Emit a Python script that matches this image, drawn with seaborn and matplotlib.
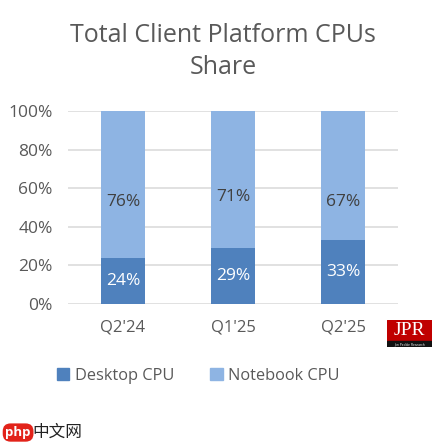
import matplotlib
matplotlib.use("Agg")
import matplotlib.pyplot as plt
import matplotlib.patches as mpatches
import numpy as np
import pandas as pd
import seaborn as sns

# data
quarters = ["Q2'24", "Q1'25", "Q2'25"]
desktop_share = [24, 29, 33]
notebook_share = [76, 71, 67]
series_names = ["Desktop CPU", "Notebook CPU"]

desktop_color = "#4F81BD"
notebook_color = "#8EB4E3"
text_gray = "#595959"

# where the notebook labels sit (fraction of axis height), as in the reference
notebook_label_y = [0.53, 0.555, 0.53]

df = pd.DataFrame({
    "quarter": quarters,
    "desktop": desktop_share,
    "notebook": notebook_share,
})
df["total"] = df["desktop"] + df["notebook"]

sns.set_style("white")
plt.rcParams["font.family"] = ["Open Sans", "Noto Sans CJK SC", "DejaVu Sans"]

fig = plt.figure(figsize=(4.46, 4.45), dpi=100)
ax = fig.add_axes([0.1525, 0.3169, 0.7399, 0.4337])

# stacked bars: full height first, then desktop over it
sns.barplot(data=df, x="quarter", y="total", color=notebook_color,
            width=0.4, linewidth=0, saturation=1, ax=ax, zorder=3)
sns.barplot(data=df, x="quarter", y="desktop", color=desktop_color,
            width=0.4, linewidth=0, saturation=1, ax=ax, zorder=3)

ax.set_xlim(-0.5, 2.5)
ax.set_ylim(0, 100)
ax.set_yticks(np.arange(0, 101, 20))
ax.set_yticklabels([f"{v}%" for v in range(0, 101, 20)])
ax.yaxis.grid(True, color="#D9D9D9", linewidth=1.1, zorder=0)
ax.set_axisbelow(True)
for s in ax.spines.values():
    s.set_visible(False)
ax.set_xlabel("")
ax.set_ylabel("")
ax.tick_params(axis="y", length=0, pad=11, labelsize=12.5, labelcolor=text_gray)
ax.tick_params(axis="x", length=0, pad=11, labelsize=12, labelcolor=text_gray)

# data labels
for i, row in df.iterrows():
    ax.text(i, row["desktop"] / 2, f"{row['desktop']}%", ha="center", va="center",
            color="white", fontsize=12.5, zorder=4)
    ax.text(i, notebook_label_y[i] * 100, f"{row['notebook']}%", ha="center",
            va="center", color="#404040", fontsize=12.5, zorder=4)

fig.text(0.5, 0.884, "Total Client Platform CPUs\nShare", ha="center", va="center",
         fontsize=18, color=text_gray, linespacing=1.4)

handles = [mpatches.Patch(color=desktop_color, label=series_names[0]),
           mpatches.Patch(color=notebook_color, label=series_names[1])]
fig.legend(handles=handles, loc="center", bbox_to_anchor=(0.445, 0.155), ncol=2,
           frameon=False, fontsize=11.8, handlelength=0.75, handleheight=0.75,
           handletextpad=0.35, columnspacing=2.2, labelcolor=text_gray)

# JPR logo box
logo = fig.add_axes([0.868, 0.22, 0.101, 0.061])
logo.set_xlim(0, 1)
logo.set_ylim(0, 1)
logo.axis("off")
logo.add_patch(mpatches.Rectangle((0, 0.22), 1, 0.78, color="#C00000"))
logo.add_patch(mpatches.Rectangle((0, 0), 1, 0.22, color="#111111"))
logo.text(0.5, 0.6, "JPR", ha="center", va="center", color="white",
          fontsize=14, family="Liberation Serif")
logo.text(0.5, 0.1, "Jon Peddie Research", ha="center", va="center",
          color="white", fontsize=2.3)

# watermark bottom left
fig.text(0.012, 0.028, "php", ha="left", va="center", color="white", fontsize=9.5,
         fontweight="bold",
         bbox=dict(boxstyle="round,pad=0.2,rounding_size=0.6", fc="#E2231A", ec="none"))
fig.text(0.073, 0.028, "中文网", ha="left", va="center", color="#222222", fontsize=12,
         family=["Noto Sans CJK SC", "DejaVu Sans"])

fig.savefig("out.png", dpi=100)
